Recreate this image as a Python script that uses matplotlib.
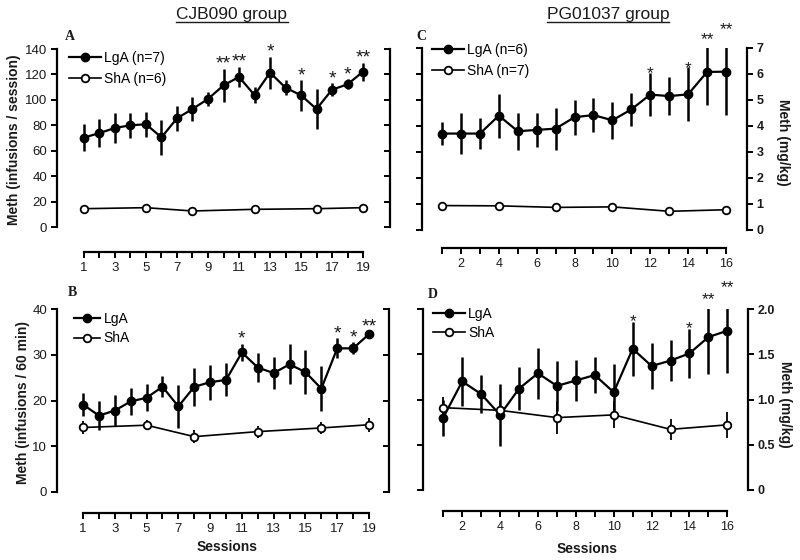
import matplotlib
matplotlib.use('Agg')
import matplotlib.pyplot as plt
from matplotlib.lines import Line2D

plt.rcParams['font.family'] = ['Liberation Sans', 'DejaVu Sans']

# ---------------- data ----------------
# Panel A: CJB090 group, infusions / session
sess_A = list(range(1, 20))
lga_A = [70.3, 73.9, 77.9, 80.0, 80.8, 70.5, 85.5, 92.8, 100.7, 111.4,
         118.0, 103.8, 121.4, 109.6, 103.6, 92.8, 108.0, 112.2, 122.2]
lga_A_err = [10.5, 11, 12, 10, 10, 14, 10, 9.5, 5.5, 13, 8, 6, 12.5, 6, 12,
             15.5, 5, 4, 7]
sha_A_sess = [1, 5, 8, 12, 16, 19]
sha_A = [14.4, 15.2, 12.6, 13.9, 14.4, 15.2]
sha_A_err = [1.0, 1.0, 1.0, 1.0, 1.0, 1.0]
star_A_sess = [10, 11, 13, 15, 17, 18, 19]
star_A_mark = ['**', '**', '*', '*', '*', '*', '**']

# Panel B: CJB090 group, infusions / 60 min
sess_B = list(range(1, 20))
lga_B = [19.1, 16.7, 17.8, 19.8, 20.6, 23.0, 18.7, 23.0, 24.0, 24.5,
         30.5, 27.2, 26.0, 27.9, 26.2, 22.6, 31.4, 31.4, 34.5]
lga_B_err = [2.5, 3.2, 3.45, 3.0, 2.95, 2.3, 4.65, 4.1, 3.8, 3.6, 1.9, 3.2,
             3.45, 4.35, 4.75, 4.85, 2.2, 1.3, 0.5]
sha_B_sess = [1, 5, 8, 12, 16, 19]
sha_B = [14.1, 14.6, 12.1, 13.2, 14.0, 14.7]
sha_B_err = [1.45, 1.1, 1.45, 1.3, 1.3, 1.5]
star_B_sess = [11, 17, 18, 19]
star_B_mark = ['*', '*', '*', '**']

# Panel C: PG01037 group, mg/kg per session
sess_C = list(range(1, 17))
lga_C = [3.69, 3.69, 3.69, 4.38, 3.78, 3.83, 3.88, 4.32, 4.40, 4.20,
         4.62, 5.19, 5.13, 5.20, 6.06, 6.07]
lga_C_err = [0.44, 0.79, 0.60, 0.85, 0.72, 0.65, 0.81, 0.67, 0.65, 0.71,
             0.64, 0.84, 0.74, 1.04, 1.29, 1.67]
sha_C_sess = [1, 4, 7, 10, 13, 16]
sha_C = [0.92, 0.91, 0.85, 0.87, 0.70, 0.76]
sha_C_err = [0.06, 0.06, 0.06, 0.06, 0.06, 0.06]
star_C_sess = [12, 14, 15, 16]
star_C_mark = ['*', '*', '**', '**']

# Panel D: PG01037 group, mg/kg per 60 min
sess_D = list(range(1, 17))
lga_D = [0.80, 1.20, 1.06, 0.83, 1.12, 1.29, 1.15, 1.21, 1.27, 1.08,
         1.56, 1.37, 1.43, 1.51, 1.69, 1.76]
lga_D_err = [0.20, 0.27, 0.21, 0.34, 0.24, 0.28, 0.28, 0.23, 0.20, 0.31,
             0.30, 0.25, 0.23, 0.27, 0.41, 0.47]
sha_D_sess = [1, 4, 7, 10, 13, 16]
sha_D = [0.91, 0.88, 0.80, 0.83, 0.67, 0.72]
sha_D_err = [0.12, 0.10, 0.18, 0.15, 0.12, 0.14]
star_D_sess = [11, 14, 15, 16]
star_D_mark = ['*', '*', '**', '**']

# ---------------- figure ----------------
W, H = 800, 560
fig = plt.figure(figsize=(W / 100, H / 100), dpi=100)
TXT = '#1a1a1a'


def add_ax(l, r, t, b):
    return fig.add_axes([l / W, 1 - b / H, (r - l) / W, (b - t) / H])


def draw_panel(ax, sess, lga, lga_err, sha_sess, sha, sha_err, star_sess,
               star_mark, ylim, yticks, yticklabels, xlim, xbounds, xticks,
               xticklabels, x_off, labels_right, legend_labels, leg_anchor,
               leg_hl, leg_sp, star_fs, star_off, bold_ticks, tick_fs):
    ax.errorbar(sess, lga, yerr=lga_err, fmt='-o', color='k', mfc='k',
                mec='k', ms=6, lw=1.6, elinewidth=1.8, capsize=0, zorder=3)
    ax.errorbar(sha_sess, sha, yerr=sha_err, fmt='-o', color='k',
                mfc='white', mec='k', mew=1.3, ms=5.5, lw=1.2,
                elinewidth=1.3, capsize=0, zorder=4)
    for s, m in zip(star_sess, star_mark):
        i = sess.index(s)
        ax.annotate(m, (s, lga[i] + lga_err[i]), xytext=(0, star_off),
                    textcoords='offset points', ha='center', va='baseline',
                    fontsize=star_fs, color=TXT, annotation_clip=False)
    ax.set_xlim(*xlim)
    ax.set_ylim(*ylim)
    ax.set_yticks(yticks)
    ax.set_xticks(xticks)
    ax.set_xticklabels(xticklabels)
    fw = 'bold' if bold_ticks else 'normal'
    for lab in ax.get_xticklabels():
        lab.set_fontweight(fw)
    ax.spines['top'].set_visible(False)
    ax.spines['right'].set_visible(False)
    ax.spines['bottom'].set_position(('outward', x_off))
    ax.spines['bottom'].set_bounds(xbounds[0], xbounds[1])
    for sp in ('left', 'bottom'):
        ax.spines[sp].set_linewidth(1.6)
    ax.tick_params(axis='x', direction='out', length=4, width=1.4,
                   labelsize=tick_fs, colors='k', labelcolor=TXT, pad=3)
    ax.tick_params(axis='y', direction='out', length=4, width=1.4,
                   labelsize=tick_fs, labelcolor=TXT, pad=3)
    tw = ax.twinx()
    tw.set_ylim(*ylim)
    tw.set_yticks(yticks)
    for sp in ('left', 'bottom', 'top'):
        tw.spines[sp].set_visible(False)
    tw.spines['right'].set_linewidth(1.6)
    if labels_right:
        ax.set_yticklabels([])
        tw.set_yticklabels(yticklabels)
        tw.tick_params(axis='y', direction='out', length=4, width=1.4,
                       labelsize=tick_fs, labelcolor=TXT, pad=3)
        for lab in tw.get_yticklabels():
            lab.set_fontweight(fw)
    else:
        ax.set_yticklabels(yticklabels)
        tw.set_yticklabels([])
        tw.tick_params(axis='y', direction='in', length=4, width=1.4)
    handles = [
        Line2D([], [], color='k', marker='o', mfc='k', mec='k', ms=6, lw=1.6),
        Line2D([], [], color='k', marker='o', mfc='white', mec='k', mew=1.3,
               ms=5.5, lw=1.2),
    ]
    ax.legend(handles, legend_labels, loc='upper left',
              bbox_to_anchor=leg_anchor, frameon=False, fontsize=10,
              handlelength=leg_hl, handletextpad=0.25, labelspacing=leg_sp,
              borderpad=0, borderaxespad=0)


axA = add_ax(57, 390, 49, 227)
draw_panel(axA, sess_A, lga_A, lga_A_err, sha_A_sess, sha_A, sha_A_err,
           star_A_sess, star_A_mark, (0, 140), list(range(0, 141, 20)),
           [str(v) for v in range(0, 141, 20)], (-0.74, 20.74), (1, 19),
           list(range(1, 20)), [str(v) if v % 2 else '' for v in range(1, 20)],
           18, False, ['LgA (n=7)', 'ShA (n=6)'], (0.035, 0.99), 2.3, 0.5,
           14, 0, False, 9.5)

axB = add_ax(57, 389, 309, 492)
draw_panel(axB, sess_B, lga_B, lga_B_err, sha_B_sess, sha_B, sha_B_err,
           star_B_sess, star_B_mark, (0, 40), [0, 10, 20, 30, 40],
           ['0', '10', '20', '30', '40'], (-0.64, 20.26), (1, 19),
           list(range(1, 20)), [str(v) if v % 2 else '' for v in range(1, 20)],
           15, False, ['LgA', 'ShA'], (0.05, 0.984), 1.9, 0.4, 14, 0, False,
           9.5)

axC = add_ax(422, 747, 47.5, 229.5)
draw_panel(axC, sess_C, lga_C, lga_C_err, sha_C_sess, sha_C, sha_C_err,
           star_C_sess, star_C_mark, (0, 7), list(range(0, 8)),
           [str(v) for v in range(0, 8)], (-0.06, 17.11), (1, 16),
           list(range(1, 17)), [str(v) if v % 2 == 0 else '' for v in range(1, 17)],
           13.5, True, ['LgA (n=6)', 'ShA (n=7)'], (0.03, 1.027), 2.3, 0.55,
           12.5, -4, True, 9)

axD = add_ax(423, 748, 309, 490)
draw_panel(axD, sess_D, lga_D, lga_D_err, sha_D_sess, sha_D, sha_D_err,
           star_D_sess, star_D_mark, (0, 2.0), [0, 0.5, 1.0, 1.5, 2.0],
           ['0', '0.5', '1.0', '1.5', '2.0'], (-0.07, 17.09), (1, 16),
           list(range(1, 17)), [str(v) if v % 2 == 0 else '' for v in range(1, 17)],
           15, True, ['LgA', 'ShA'], (0.03, 1.013), 2.3, 0.4, 12.5, -3, True,
           9)


def ftext(x, y, s, **kw):
    return fig.text(x / W, 1 - y / H, s, **kw)


# panel letters
serif = ['Liberation Serif', 'DejaVu Serif']
ftext(70, 37, 'A', family=serif, fontweight='bold', fontsize=10,
      ha='center', va='center', color=TXT)
ftext(72, 293, 'B', family=serif, fontweight='bold', fontsize=10,
      ha='center', va='center', color=TXT)
ftext(421, 37, 'C', family=serif, fontweight='bold', fontsize=10,
      ha='center', va='center', color=TXT)
ftext(433, 295, 'D', family=serif, fontweight='bold', fontsize=10,
      ha='center', va='center', color=TXT)

# axis labels
ftext(14, 140, 'Meth (infusions / session)', rotation=90, fontweight='bold',
      fontsize=10, ha='center', va='center', color=TXT)
ftext(23, 403, 'Meth (infusions / 60 min)', rotation=90, fontweight='bold',
      fontsize=10, ha='center', va='center', color=TXT)
ftext(783, 142, 'Meth (mg/kg)', rotation=270, fontweight='bold',
      fontsize=10, ha='center', va='center', color=TXT)
ftext(785, 404, 'Meth (mg/kg)', rotation=270, fontweight='bold',
      fontsize=10, ha='center', va='center', color=TXT)
ftext(227, 547, 'Sessions', fontweight='bold', fontsize=10,
      ha='center', va='center', color=TXT)
ftext(587, 549, 'Sessions', fontweight='bold', fontsize=10,
      ha='center', va='center', color=TXT)

# group titles (underlined)
t1 = ftext(232, 19.5, 'CJB090 group', fontsize=12.5, ha='center',
           va='baseline', color=TXT)
t2 = ftext(608, 19.5, 'PG01037 group', fontsize=12.5, ha='center',
           va='baseline', color=TXT)
fig.canvas.draw()
rend = fig.canvas.get_renderer()
for t in (t1, t2):
    bb = t.get_window_extent(rend)
    yline = 1 - 22 / H
    fig.add_artist(Line2D([bb.x0 / W, bb.x1 / W], [yline, yline],
                          transform=fig.transFigure, color=TXT, lw=1.0))

fig.savefig('out.png', dpi=100)
